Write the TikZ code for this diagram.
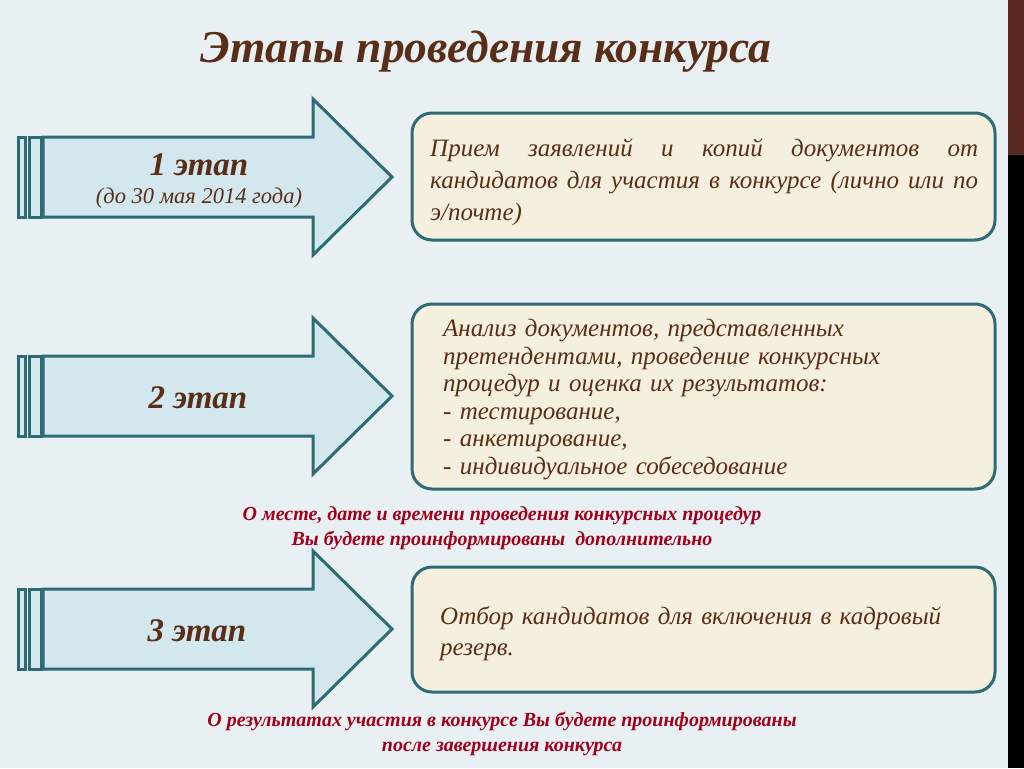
\documentclass[tikz,border=0pt]{standalone}
\usepackage{fontspec}
\setmainfont{Liberation Serif}
\definecolor{bgc}{HTML}{E9F0F4}
\definecolor{arrfill}{HTML}{D3E7EE}
\definecolor{teal}{HTML}{2E6B75}
\definecolor{boxfill}{HTML}{F5F0DD}
\definecolor{brownt}{HTML}{5A2E16}
\definecolor{redt}{HTML}{A0001A}
\definecolor{sidebrown}{HTML}{5A2A1E}
\tikzset{
  arrowshape/.style={fill=arrfill, draw=teal, line width=3pt, line join=miter},
  stripe/.style={fill=arrfill, draw=teal, line width=3pt},
  stagebox/.style={fill=boxfill, draw=teal, line width=3pt, rounded corners=20pt},
  stagelabel/.style={text=brownt, font=\fontsize{33}{38}\selectfont\bfseries\itshape, inner sep=0pt},
  boxtext/.style={text=brownt, anchor=north west, inner sep=0pt, font=\itshape},
  note/.style={text=redt, align=center, inner sep=0pt, font=\fontsize{20}{24.5}\selectfont\bfseries\itshape},
}
\newcommand\stagearrow[1]{%
  \draw[stripe] (18,#1-40) rectangle (25,#1+40);
  \draw[stripe] (29,#1-40) rectangle (41,#1+40);
  \draw[arrowshape] (43,#1-40) -- (313,#1-40) -- (313,#1-78) -- (392,#1) -- (313,#1+78) -- (313,#1+40) -- (43,#1+40) -- cycle;
}
\begin{document}
\begin{tikzpicture}[x=1pt,y=-1pt]
\useasboundingbox (0,0) rectangle (1024,768);
\fill[bgc] (0,0) rectangle (1024,768);
\fill[sidebrown] (1008,0) rectangle (1024,155);
\fill[black] (1008,155) rectangle (1024,768);

\node[text=brownt, font=\fontsize{45.5}{50}\selectfont\bfseries\itshape, inner sep=0pt] (title) at (486,52) {Этапы проведения конкурса};

% arrows
\stagearrow{177}
\stagearrow{396}
\stagearrow{629}

\node[stagelabel] (s1) at (199,165) {1 этап};
\node[text=brownt, font=\fontsize{22.5}{26}\selectfont\itshape, inner sep=0pt] (d1) at (199,198) {(до 30 мая 2014 года)};
\node[stagelabel] (s2) at (198,398) {2 этап};
\node[stagelabel] (s3) at (197,631) {3 этап};

% boxes
\draw[stagebox] (412,113) rectangle (995,240);
\draw[stagebox] (412,304) rectangle (995,489);
\draw[stagebox] (412,567) rectangle (995,692);

\node[boxtext, text width=548pt, align=justify, font=\fontsize{25}{32}\selectfont\itshape] (t1) at (430,139)
 {Прием заявлений и копий документов от\linebreak кандидатов для участия в конкурсе (лично или по\linebreak э/почте)};

\node[boxtext, text width=540pt, align=left, font=\fontsize{25}{27.5}\selectfont\itshape] (t2) at (443,319)
 {Анализ документов, представленных\\претендентами, проведение конкурсных\\процедур и оценка их результатов:\\- тестирование,\\- анкетирование,\\- индивидуальное собеседование};

\node[boxtext, text width=540pt, align=left, font=\fontsize{25}{31}\selectfont\itshape] (t3) at (440,606)
 {Отбор кандидатов для включения в кадровый\\резерв.};

\node[note] (n1) at (502,528) {О месте, дате и времени проведения конкурсных процедур\\Вы будете проинформированы\ \ дополнительно};
\node[note] (n2) at (502,734) {О результатах участия в конкурсе Вы будете проинформированы\\после завершения конкурса};
\end{tikzpicture}
\end{document}
